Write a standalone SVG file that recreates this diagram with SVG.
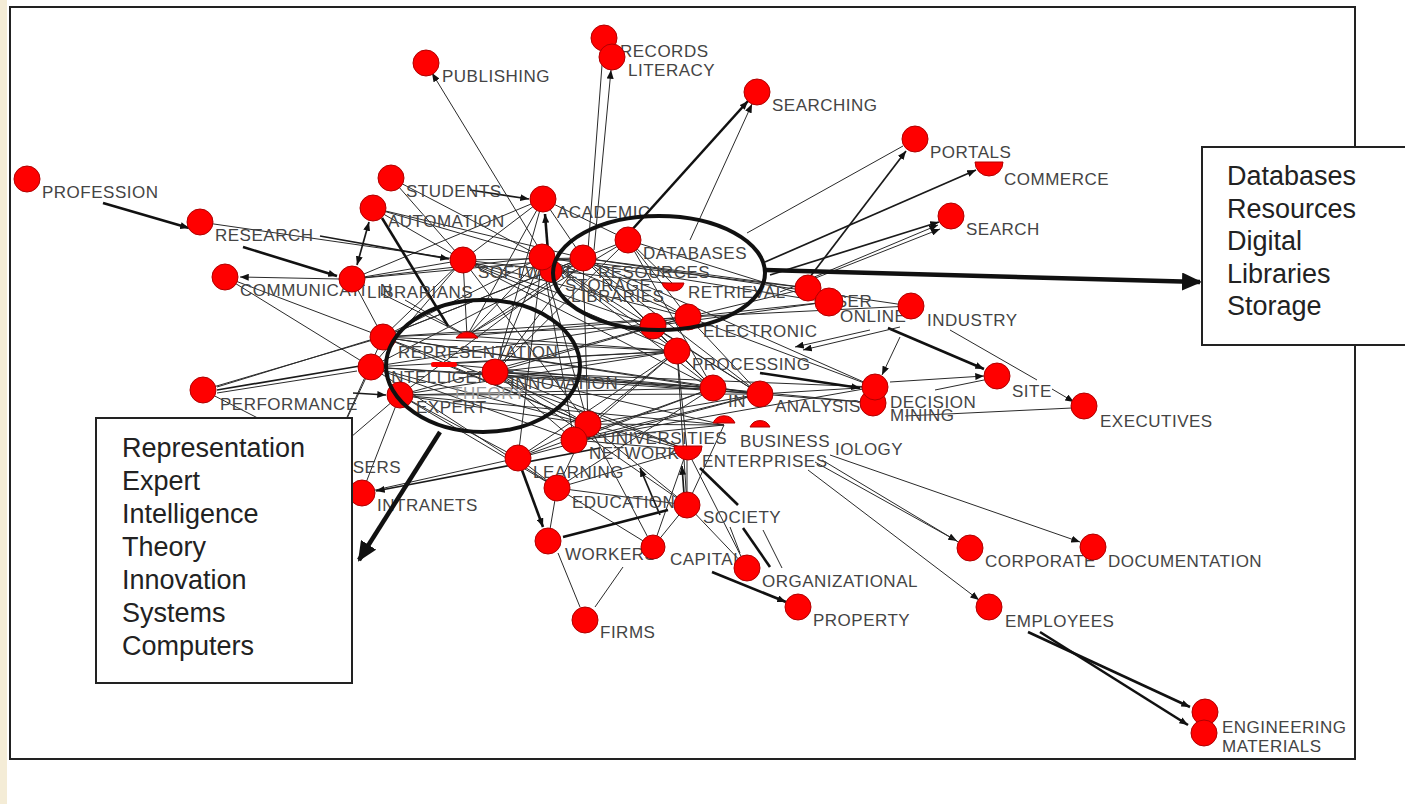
<svg xmlns="http://www.w3.org/2000/svg" width="1405" height="804" viewBox="0 0 1405 804">
  <defs>
    <style>
      .e { stroke: #2a2a2a; stroke-width: 1; fill: none; }
      .m { stroke: #1a1a1a; stroke-width: 1.7; fill: none; }
      .k { stroke: #111; stroke-width: 2.6; fill: none; }
      .nd { fill: #f00; stroke: #b00000; stroke-width: 1; }
      .lb { font-family: "Liberation Sans", Arial, sans-serif; font-size: 17px; letter-spacing: 0.5px; fill: #444; }
      .dim { fill: #999; }
      .bx { fill: #fff; stroke: #222; stroke-width: 2; }
      .bt { font-family: "Liberation Sans", Arial, sans-serif; font-size: 27px; fill: #222; }
      .ring { fill: none; stroke: #111; stroke-width: 4; }
      .big { stroke: #111; stroke-width: 4.5; fill: none; }
    </style>
    <marker id="ah" viewBox="0 0 10 8" refX="10" refY="4" markerWidth="9" markerHeight="7" markerUnits="userSpaceOnUse" orient="auto">
      <path d="M0,0 L10,4 L0,8 z" fill="#111"/>
    </marker>
    <marker id="ah2" viewBox="0 0 10 8" refX="0" refY="4" markerWidth="9" markerHeight="7" markerUnits="userSpaceOnUse" orient="auto">
      <path d="M10,0 L0,4 L10,8 z" fill="#111"/>
    </marker>
    <marker id="bigh" viewBox="0 0 20 18" refX="18" refY="9" markerWidth="20" markerHeight="18" markerUnits="userSpaceOnUse" orient="auto">
      <path d="M0,0 L20,9 L0,18 z" fill="#111"/>
    </marker>
  </defs>

  <!-- page -->
  <rect x="0" y="0" width="1405" height="804" fill="#fff"/>
  <rect x="0" y="0" width="7" height="804" fill="#f4ecd6"/>
  <rect x="10" y="7" width="1345" height="752" fill="#fff" stroke="#222" stroke-width="2"/>

  <g id="connectors">
    <!-- hub links -->
    <line class="e" x1="383" y1="337" x2="463" y2="260"/>
    <line class="e" x1="383" y1="337" x2="542" y2="257"/>
    <line class="e" x1="383" y1="337" x2="583" y2="258"/>
    <line class="e" x1="383" y1="337" x2="688" y2="317"/>
    <line class="e" x1="383" y1="337" x2="677" y2="351"/>
    <line class="e" x1="383" y1="337" x2="713" y2="388"/>
    <line class="e" x1="383" y1="337" x2="588" y2="424"/>
    <line class="e" x1="383" y1="337" x2="352" y2="279"/>
    <line class="e" x1="383" y1="337" x2="760" y2="394"/>
    <line class="e" x1="383" y1="337" x2="687" y2="450"/>
    <line class="e" x1="383" y1="337" x2="628" y2="240"/>
    <line class="e" x1="383" y1="337" x2="653" y2="326"/>
    <line class="e" x1="371" y1="367" x2="677" y2="351"/>
    <line class="e" x1="371" y1="367" x2="760" y2="394"/>
    <line class="e" x1="371" y1="367" x2="574" y2="440"/>
    <line class="e" x1="371" y1="367" x2="583" y2="258"/>
    <line class="e" x1="371" y1="367" x2="688" y2="317"/>
    <line class="e" x1="371" y1="367" x2="557" y2="488"/>
    <line class="e" x1="371" y1="367" x2="330" y2="455"/>
    <line class="e" x1="371" y1="367" x2="713" y2="388"/>
    <line class="e" x1="371" y1="367" x2="588" y2="424"/>
    <line class="e" x1="371" y1="367" x2="463" y2="260"/>
    <line class="e" x1="400" y1="395" x2="588" y2="424"/>
    <line class="e" x1="400" y1="395" x2="518" y2="458"/>
    <line class="e" x1="400" y1="395" x2="362" y2="493"/>
    <line class="e" x1="400" y1="395" x2="557" y2="488"/>
    <line class="e" x1="400" y1="395" x2="713" y2="388"/>
    <line class="e" x1="400" y1="395" x2="330" y2="455"/>
    <line class="e" x1="400" y1="395" x2="677" y2="351"/>
    <line class="e" x1="400" y1="395" x2="760" y2="394"/>
    <line class="e" x1="400" y1="395" x2="688" y2="317"/>
    <line class="e" x1="400" y1="395" x2="583" y2="258"/>
    <line class="e" x1="400" y1="395" x2="724" y2="425"/>
    <line class="e" x1="495" y1="372" x2="688" y2="317"/>
    <line class="e" x1="495" y1="372" x2="713" y2="388"/>
    <line class="e" x1="495" y1="372" x2="760" y2="394"/>
    <line class="e" x1="495" y1="372" x2="724" y2="425"/>
    <line class="e" x1="495" y1="372" x2="687" y2="450"/>
    <line class="e" x1="495" y1="372" x2="687" y2="505"/>
    <line class="e" x1="495" y1="372" x2="628" y2="240"/>
    <line class="e" x1="495" y1="372" x2="583" y2="258"/>
    <line class="e" x1="495" y1="372" x2="542" y2="257"/>
    <line class="e" x1="495" y1="372" x2="677" y2="351"/>
    <line class="e" x1="495" y1="372" x2="588" y2="424"/>
    <line class="e" x1="495" y1="372" x2="574" y2="440"/>
    <line class="e" x1="495" y1="372" x2="875" y2="387"/>
    <line class="e" x1="467" y1="336" x2="352" y2="279"/>
    <line class="e" x1="467" y1="336" x2="463" y2="260"/>
    <line class="e" x1="467" y1="336" x2="542" y2="257"/>
    <line class="e" x1="467" y1="336" x2="583" y2="258"/>
    <line class="e" x1="467" y1="336" x2="543" y2="199"/>
    <line class="e" x1="467" y1="336" x2="688" y2="317"/>
    <line class="e" x1="467" y1="336" x2="677" y2="351"/>
    <line class="e" x1="467" y1="336" x2="628" y2="240"/>
    <line class="e" x1="467" y1="336" x2="405" y2="300"/>
    <line class="e" x1="444" y1="364" x2="713" y2="388"/>
    <line class="e" x1="444" y1="364" x2="677" y2="351"/>
    <line class="e" x1="444" y1="364" x2="588" y2="424"/>
    <line class="e" x1="463" y1="260" x2="543" y2="199"/>
    <line class="e" x1="463" y1="260" x2="583" y2="258"/>
    <line class="e" x1="463" y1="260" x2="673" y2="284"/>
    <line class="e" x1="463" y1="260" x2="588" y2="424"/>
    <line class="e" x1="463" y1="260" x2="391" y2="178"/>
    <line class="e" x1="463" y1="260" x2="688" y2="317"/>
    <line class="e" x1="463" y1="260" x2="677" y2="351"/>
    <line class="e" x1="463" y1="260" x2="713" y2="388"/>
    <line class="e" x1="463" y1="260" x2="653" y2="326"/>
    <line class="e" x1="542" y1="257" x2="688" y2="317"/>
    <line class="e" x1="542" y1="257" x2="677" y2="351"/>
    <line class="e" x1="542" y1="257" x2="760" y2="394"/>
    <line class="e" x1="542" y1="257" x2="827" y2="302"/>
    <line class="e" x1="542" y1="257" x2="808" y2="288"/>
    <line class="e" x1="542" y1="257" x2="518" y2="458"/>
    <line class="e" x1="542" y1="257" x2="574" y2="440"/>
    <line class="e" x1="542" y1="257" x2="713" y2="388"/>
    <line class="e" x1="542" y1="257" x2="588" y2="424"/>
    <line class="e" x1="583" y1="258" x2="688" y2="317"/>
    <line class="e" x1="583" y1="258" x2="677" y2="351"/>
    <line class="e" x1="583" y1="258" x2="875" y2="387"/>
    <line class="e" x1="583" y1="258" x2="808" y2="288"/>
    <line class="e" x1="583" y1="258" x2="911" y2="306"/>
    <line class="e" x1="583" y1="258" x2="713" y2="388"/>
    <line class="e" x1="583" y1="258" x2="760" y2="394"/>
    <line class="e" x1="583" y1="258" x2="588" y2="424"/>
    <line class="e" x1="628" y1="240" x2="688" y2="317"/>
    <line class="e" x1="628" y1="240" x2="713" y2="388"/>
    <line class="e" x1="628" y1="240" x2="827" y2="302"/>
    <line class="e" x1="628" y1="240" x2="673" y2="284"/>
    <line class="e" x1="653" y1="326" x2="827" y2="302"/>
    <line class="e" x1="653" y1="326" x2="760" y2="394"/>
    <line class="e" x1="688" y1="317" x2="808" y2="288"/>
    <line class="e" x1="688" y1="317" x2="827" y2="302"/>
    <line class="e" x1="688" y1="317" x2="875" y2="387"/>
    <line class="e" x1="688" y1="317" x2="760" y2="394"/>
    <line class="e" x1="688" y1="317" x2="911" y2="306"/>
    <line class="e" x1="677" y1="351" x2="713" y2="388"/>
    <line class="e" x1="677" y1="351" x2="588" y2="424"/>
    <line class="e" x1="677" y1="351" x2="687" y2="450"/>
    <line class="e" x1="677" y1="351" x2="687" y2="505"/>
    <line class="e" x1="677" y1="351" x2="574" y2="440"/>
    <line class="e" x1="588" y1="424" x2="760" y2="394"/>
    <line class="e" x1="588" y1="424" x2="724" y2="425"/>
    <line class="e" x1="588" y1="424" x2="687" y2="450"/>
    <line class="e" x1="588" y1="424" x2="687" y2="505"/>
    <line class="e" x1="588" y1="424" x2="557" y2="488"/>
    <line class="e" x1="588" y1="424" x2="653" y2="547"/>
    <line class="e" x1="574" y1="440" x2="724" y2="425"/>
    <line class="e" x1="574" y1="440" x2="687" y2="450"/>
    <line class="e" x1="574" y1="440" x2="713" y2="388"/>
    <line class="e" x1="574" y1="440" x2="760" y2="394"/>
    <line class="e" x1="574" y1="440" x2="875" y2="387"/>
    <line class="e" x1="518" y1="458" x2="588" y2="424"/>
    <line class="e" x1="518" y1="458" x2="677" y2="351"/>
    <line class="e" x1="518" y1="458" x2="557" y2="488"/>
    <line class="e" x1="518" y1="458" x2="713" y2="388"/>
    <line class="e" x1="518" y1="458" x2="760" y2="394"/>
    <line class="e" x1="557" y1="488" x2="713" y2="388"/>
    <line class="e" x1="557" y1="488" x2="687" y2="450"/>
    <line class="e" x1="687" y1="505" x2="687" y2="450"/>
    <line class="e" x1="687" y1="505" x2="724" y2="425"/>
    <line class="e" x1="687" y1="505" x2="653" y2="547"/>
    <line class="e" x1="687" y1="505" x2="557" y2="488"/>
    <line class="e" x1="687" y1="505" x2="747" y2="568"/>
    <line class="e" x1="687" y1="450" x2="653" y2="547"/>
    <line class="e" x1="687" y1="450" x2="747" y2="568"/>
    <line class="e" x1="352" y1="279" x2="542" y2="257"/>
    <line class="e" x1="352" y1="279" x2="583" y2="258"/>
    <line class="e" x1="352" y1="279" x2="543" y2="199"/>
    <line class="e" x1="352" y1="279" x2="463" y2="260"/>
    <line class="e" x1="391" y1="178" x2="542" y2="257"/>
    <line class="e" x1="373" y1="208" x2="542" y2="257"/>
    <line class="e" x1="373" y1="208" x2="463" y2="260"/>
    <line class="e" x1="373" y1="208" x2="583" y2="258"/>
    <line class="e" x1="543" y1="199" x2="583" y2="258"/>
    <line class="e" x1="543" y1="199" x2="628" y2="240"/>
    <line class="e" x1="543" y1="199" x2="495" y2="372"/>
    <line class="e" x1="225" y1="277" x2="383" y2="337"/>
    <line class="e" x1="225" y1="277" x2="371" y2="367"/>
    <line class="e" x1="713" y1="388" x2="760" y2="394"/>
    <line class="e" x1="713" y1="388" x2="873" y2="403"/>
    <line class="e" x1="760" y1="394" x2="875" y2="387"/>
    <line class="e" x1="760" y1="394" x2="873" y2="403"/>
    <line class="e" x1="557" y1="488" x2="653" y2="547"/>
    <line class="e" x1="557" y1="488" x2="548" y2="541"/>
    <line class="e" x1="518" y1="458" x2="362" y2="493"/>
    <line class="e" x1="203" y1="390" x2="330" y2="455"/>
    <line class="e" x1="200" y1="222" x2="463" y2="260"/>
    <line class="e" x1="203" y1="390" x2="383" y2="337"/>
    <line class="e" x1="383" y1="337" x2="330" y2="455"/>

    <!-- directed links -->
    <line class="k" x1="103" y1="203" x2="189" y2="228" marker-end="url(#ah)"/>
    <line class="k" x1="243" y1="247" x2="337" y2="276" marker-end="url(#ah)"/>
    <line class="m" x1="320" y1="236" x2="449" y2="259" marker-end="url(#ah)"/>
    <line class="k" x1="382" y1="218" x2="448" y2="326"/>
    <line class="k" x1="630" y1="232" x2="748" y2="101" marker-end="url(#ah)"/>
    <line class="k" x1="888" y1="328" x2="984" y2="369" marker-end="url(#ah)"/>
    <line class="k" x1="760" y1="373" x2="860" y2="388" marker-end="url(#ah)"/>
    <line class="k" x1="1028" y1="632" x2="1190" y2="707" marker-end="url(#ah)"/>
    <line class="k" x1="1040" y1="632" x2="1188" y2="725" marker-end="url(#ah)"/>
    <line class="k" x1="522" y1="470" x2="543" y2="527" marker-end="url(#ah)"/>
    <line class="k" x1="563" y1="537" x2="668" y2="510"/>
    <line class="k" x1="712" y1="572" x2="786" y2="602" marker-end="url(#ah)"/>
    <line class="k" x1="743" y1="528" x2="770" y2="567"/>
    <line class="k" x1="700" y1="468" x2="738" y2="505"/>
    <line class="k" x1="548" y1="252" x2="545" y2="214" marker-end="url(#ah)"/>
    <line class="m" x1="800" y1="290" x2="906" y2="151" marker-end="url(#ah)"/>
    <line class="m" x1="765" y1="262" x2="976" y2="170" marker-end="url(#ah)"/>
    <line class="m" x1="357" y1="265" x2="369" y2="222" marker-end="url(#ah)" marker-start="url(#ah2)"/>
    <line class="e" x1="340" y1="279" x2="240" y2="277" marker-end="url(#ah)"/>
    <line class="m" x1="470" y1="190" x2="529" y2="199" marker-end="url(#ah)"/>
    <line class="e" x1="540" y1="250" x2="432" y2="73" marker-end="url(#ah)"/>
    <line class="e" x1="588" y1="250" x2="603" y2="52" marker-end="url(#ah)"/>
    <line class="e" x1="594" y1="250" x2="611" y2="70" marker-end="url(#ah)"/>
    <line class="e" x1="690" y1="240" x2="752" y2="104" marker-end="url(#ah)"/>
    <line class="e" x1="747" y1="233" x2="903" y2="146"/>
    <line class="m" x1="770" y1="275" x2="939" y2="222" marker-end="url(#ah)"/>
    <line class="e" x1="800" y1="283" x2="938" y2="225" marker-end="url(#ah)"/>
    <line class="e" x1="780" y1="292" x2="940" y2="229" marker-end="url(#ah)"/>
    <line class="e" x1="950" y1="330" x2="1037" y2="380"/>
    <line class="e" x1="1052" y1="389" x2="1074" y2="402" marker-end="url(#ah)"/>
    <line class="e" x1="900" y1="337" x2="882" y2="375" marker-end="url(#ah)"/>
    <line class="e" x1="890" y1="382" x2="984" y2="376" marker-end="url(#ah)"/>
    <line class="e" x1="935" y1="390" x2="984" y2="380"/>
    <line class="e" x1="905" y1="416" x2="1072" y2="408"/>
    <line class="e" x1="900" y1="327" x2="803" y2="350" marker-end="url(#ah)"/>
    <line class="e" x1="870" y1="330" x2="795" y2="347" marker-end="url(#ah)"/>
    <line class="e" x1="815" y1="462" x2="957" y2="541" marker-end="url(#ah)"/>
    <line class="e" x1="822" y1="460" x2="960" y2="543"/>
    <line class="e" x1="830" y1="455" x2="1080" y2="542" marker-end="url(#ah)"/>
    <line class="e" x1="808" y1="470" x2="979" y2="600" marker-end="url(#ah)"/>
    <line class="e" x1="558" y1="553" x2="580" y2="607"/>
    <line class="e" x1="623" y1="567" x2="595" y2="607"/>
    <line class="m" x1="600" y1="448" x2="376" y2="491" marker-end="url(#ah)"/>
    <line class="e" x1="730" y1="527" x2="740" y2="553"/>
    <line class="e" x1="763" y1="530" x2="782" y2="568"/>
    <line class="e" x1="217" y1="387" x2="370" y2="340"/>
    <line class="m" x1="217" y1="390" x2="360" y2="366"/>
    <line class="e" x1="217" y1="393" x2="357" y2="371"/>
    <line class="m" x1="353" y1="393" x2="386" y2="395" marker-end="url(#ah)"/>
    <line class="m" x1="684" y1="494" x2="682" y2="466" marker-end="url(#ah)"/>
    <line class="m" x1="660" y1="515" x2="640" y2="468" marker-end="url(#ah)"/>
  </g>

  <!-- nodes: marker circle plus label -->
  <g id="n-profession"><circle class="nd" cx="27" cy="179" r="13"/><text class="lb" x="42" y="198">PROFESSION</text></g>
  <g id="n-research"><circle class="nd" cx="200" cy="222" r="13"/><text class="lb" x="215" y="241">RESEARCH</text></g>
  <g id="n-publishing"><circle class="nd" cx="426" cy="63" r="13"/><text class="lb" x="442" y="82">PUBLISHING</text></g>
  <g id="n-records"><circle class="nd" cx="604" cy="38" r="13"/><text class="lb" x="620" y="57">RECORDS</text></g>
  <g id="n-literacy"><circle class="nd" cx="612" cy="57" r="13"/><text class="lb" x="628" y="76">LITERACY</text></g>
  <g id="n-searching"><circle class="nd" cx="757" cy="92" r="13"/><text class="lb" x="772" y="111">SEARCHING</text></g>
  <g id="n-commerce"><path class="nd" d="M975,162 A14,14 0 0,0 1003,162 Z"/><text class="lb" x="1004" y="185">COMMERCE</text></g>
  <g id="n-portals"><circle class="nd" cx="915" cy="139" r="13"/><text class="lb" x="930" y="158">PORTALS</text></g>
  <g id="n-search"><circle class="nd" cx="951" cy="216" r="13"/><text class="lb" x="966" y="235">SEARCH</text></g>
  <g id="n-students"><circle class="nd" cx="391" cy="178" r="13"/><text class="lb" x="406" y="197">STUDENTS</text></g>
  <g id="n-automation"><circle class="nd" cx="373" cy="208" r="13"/><text class="lb" x="388" y="227">AUTOMATION</text></g>
  <g id="n-academic"><circle class="nd" cx="543" cy="199" r="13"/><text class="lb" x="557" y="218">ACADEMIC</text></g>
  <g id="n-communication"><circle class="nd" cx="225" cy="277" r="13"/><text class="lb" x="240" y="296">COMMUNICATION</text></g>
  <g id="n-librarians"><rect x="365" y="282" width="16" height="18" fill="#fff"/><circle class="nd" cx="352" cy="279" r="13"/><text class="lb" x="367" y="298">LIBRARIANS</text></g>
  <g id="n-software"><text class="lb" x="478" y="278">SOFTWARE</text><circle class="nd" cx="463" cy="260" r="13"/></g>
  <g id="n-storage"><text class="lb" x="565" y="291">STORAGE</text><circle class="nd" cx="551" cy="271" r="11"/></g>
  <g id="n-libraries"><text class="lb" x="571" y="302">LIBRARIES</text></g>
  <g id="n-digital"><circle class="nd" cx="542" cy="257" r="13"/></g>
  <g id="n-resources"><text class="lb" x="598" y="278">RESOURCES</text><circle class="nd" cx="583" cy="258" r="13"/></g>
  <g id="n-databases"><text class="lb" x="643" y="259">DATABASES</text><circle class="nd" cx="628" cy="240" r="13"/></g>
  <g id="n-retrieval"><path class="nd" d="M662,283 L684,283 Q682,291 673,291 Q664,291 662,283 Z"/><text class="lb" x="688" y="298">RETRIEVAL</text></g>
  <g id="n-electronic"><text class="lb" x="703" y="337">ELECTRONIC</text><circle class="nd" cx="653" cy="326" r="13"/><circle class="nd" cx="688" cy="317" r="13"/></g>
  <g id="n-processing"><text class="lb" x="692" y="370">PROCESSING</text><circle class="nd" cx="677" cy="351" r="13"/></g>
  <g id="n-information"><text class="lb" x="728" y="407">IN</text><circle class="nd" cx="713" cy="388" r="13"/></g>
  <g id="n-analysis"><text class="lb" x="775" y="412">ANALYSIS</text><circle class="nd" cx="760" cy="394" r="13"/></g>
  <g id="n-mining"><text class="lb" x="890" y="421">MINING</text><circle class="nd" cx="873" cy="403" r="13"/></g>
  <g id="n-decision"><rect x="888" y="393" width="80" height="16" fill="#fff"/><text class="lb" x="890" y="408">DECISION</text><circle class="nd" cx="875" cy="387" r="13"/></g>
  <g id="n-user"><text class="lb" x="823" y="307">USER</text><circle class="nd" cx="808" cy="288" r="13"/></g>
  <g id="n-online"><text class="lb" x="840" y="322">ONLINE</text><circle class="nd" cx="829" cy="302" r="14"/></g>
  <g id="n-industry"><circle class="nd" cx="911" cy="306" r="13"/><text class="lb" x="927" y="326">INDUSTRY</text></g>
  <g id="n-site"><circle class="nd" cx="997" cy="376" r="13"/><text class="lb" x="1012" y="397">SITE</text></g>
  <g id="n-executives"><circle class="nd" cx="1084" cy="406" r="13"/><text class="lb" x="1100" y="427">EXECUTIVES</text></g>
  <g id="n-biology"><text class="lb" x="835" y="455">IOLOGY</text></g>
  <g id="n-business"><path class="nd" d="M713,423 A12,12 0 0,1 735,423 Z"/><path class="nd" d="M750,427 A11,11 0 0,1 770,427 Z"/><text class="lb" x="740" y="447">BUSINESS</text></g>
  <g id="n-universities"><text class="lb" x="603" y="444">UNIVERSITIES</text><circle class="nd" cx="588" cy="424" r="13"/></g>
  <g id="n-networks"><text class="lb" x="589" y="459">NETWORKS</text><circle class="nd" cx="574" cy="440" r="13"/></g>
  <g id="n-enterprises"><path class="nd" d="M674,446 A14,14 0 0,0 702,446 Z"/><text class="lb" x="702" y="467">ENTERPRISES</text></g>
  <g id="n-learning"><circle class="nd" cx="518" cy="458" r="13"/><text class="lb" x="533" y="478">LEARNING</text></g>
  <g id="n-education"><circle class="nd" cx="557" cy="488" r="13"/><text class="lb" x="572" y="508">EDUCATION</text></g>
  <g id="n-society"><circle class="nd" cx="687" cy="505" r="13"/><text class="lb" x="703" y="523">SOCIETY</text></g>
  <g id="n-workers"><circle class="nd" cx="548" cy="541" r="13"/><text class="lb" x="565" y="560">WORKERS</text></g>
  <g id="n-capital"><circle class="nd" cx="653" cy="547" r="12"/><text class="lb" x="670" y="565">CAPITAL</text></g>
  <g id="n-organizational"><circle class="nd" cx="747" cy="568" r="13"/><text class="lb" x="762" y="587">ORGANIZATIONAL</text></g>
  <g id="n-property"><circle class="nd" cx="798" cy="607" r="13"/><text class="lb" x="813" y="626">PROPERTY</text></g>
  <g id="n-firms"><circle class="nd" cx="585" cy="620" r="13"/><text class="lb" x="600" y="638">FIRMS</text></g>
  <g id="n-corporate"><circle class="nd" cx="970" cy="548" r="13"/><text class="lb" x="985" y="567">CORPORATE</text></g>
  <g id="n-documentation"><circle class="nd" cx="1093" cy="547" r="13"/><text class="lb" x="1108" y="567">DOCUMENTATION</text></g>
  <g id="n-employees"><circle class="nd" cx="989" cy="607" r="13"/><text class="lb" x="1005" y="627">EMPLOYEES</text></g>
  <g id="n-engineering"><circle class="nd" cx="1205" cy="712" r="13"/><text class="lb" x="1222" y="733">ENGINEERING</text></g>
  <g id="n-materials"><circle class="nd" cx="1204" cy="733" r="13"/><text class="lb" x="1222" y="752">MATERIALS</text></g>
  <g id="n-performance"><circle class="nd" cx="203" cy="390" r="13"/><text class="lb" x="220" y="410">PERFORMANCE</text></g>
  <g id="n-users"><text class="lb" x="340" y="473">USERS</text></g>
  <g id="n-intranets"><circle class="nd" cx="362" cy="493" r="13"/><text class="lb" x="377" y="511">INTRANETS</text></g>
  <g id="n-theory"><text class="lb dim" x="452" y="399">THEORY</text></g>
  <g id="n-representation"><path class="nd" d="M456,338 A13,13 0 0,1 478,338 Z"/><rect x="431" y="362" width="26" height="5" rx="2" fill="#f00"/><circle class="nd" cx="383" cy="337" r="13"/><text class="lb" x="398" y="358">REPRESENTATION</text></g>
  <g id="n-intelligence"><circle class="nd" cx="371" cy="367" r="13"/><text class="lb" x="386" y="383">INTELLIGENCE</text></g>
  <g id="n-innovation"><circle class="nd" cx="495" cy="372" r="13"/><text class="lb" x="510" y="389">INNOVATION</text></g>
  <g id="n-expert"><circle class="nd" cx="400" cy="395" r="13"/><text class="lb" x="416" y="413">EXPERT</text></g>

  <!-- cluster rings and call-out arrows -->
  <g id="clusters">
    <ellipse class="ring" cx="659" cy="273" rx="106" ry="57"/>
    <ellipse class="ring" cx="483" cy="366" rx="97" ry="66"/>
    <line class="big" x1="765" y1="270" x2="1200" y2="282" marker-end="url(#bigh)"/>
    <line class="big" x1="440" y1="432" x2="359" y2="560" marker-end="url(#bigh)"/>
  </g>

  <g id="box-left">
    <rect class="bx" x="96" y="418" width="256" height="265"/>
    <text class="bt" x="122" y="457">Representation</text>
    <text class="bt" x="122" y="490">Expert</text>
    <text class="bt" x="122" y="523">Intelligence</text>
    <text class="bt" x="122" y="556">Theory</text>
    <text class="bt" x="122" y="589">Innovation</text>
    <text class="bt" x="122" y="622">Systems</text>
    <text class="bt" x="122" y="655">Computers</text>
  </g>

  <g id="box-right">
    <rect class="bx" x="1202" y="147" width="215" height="198"/>
    <text class="bt" x="1227" y="185">Databases</text>
    <text class="bt" x="1227" y="218">Resources</text>
    <text class="bt" x="1227" y="250">Digital</text>
    <text class="bt" x="1227" y="283">Libraries</text>
    <text class="bt" x="1227" y="315">Storage</text>
  </g>
</svg>
